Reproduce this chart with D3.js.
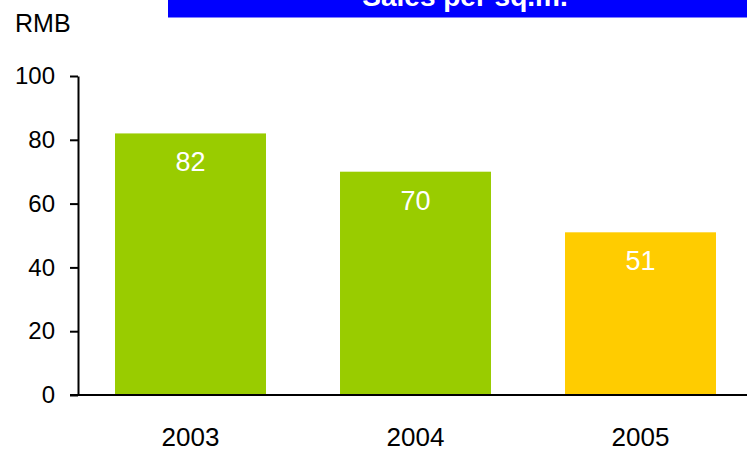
<!DOCTYPE html>
<html>
<head>
<meta charset="utf-8">
<script src="https://cdn.jsdelivr.net/npm/d3@7"></script>
<style>
  body { margin: 0; background: #fff; }
  svg { display: block; font-family: "Liberation Sans", Arial, sans-serif; }
</style>
</head>
<body>
<div id="container"></div>
<script>
// chart data
var years = ["2003", "2004", "2005"];
var sales = [82, 70, 51];
var barColors = ["#99CC00", "#99CC00", "#FFCC00"];
var yTicks = [0, 20, 40, 60, 80, 100];

var w = 747,
    h = 451;

var svg = d3.select("div#container")
  .append("svg")
  .attr("width", w)
  .attr("height", h);

// scales
var x = d3.scaleBand()
  .domain(years)
  .range([78, 753])
  .paddingInner(0.329)
  .paddingOuter(0.1645);

var y = d3.scaleLinear()
  .domain([0, 100])
  .range([395, 76]);

// title box (cut at top)
svg.append("rect")
  .attr("x", 168)
  .attr("y", 0)
  .attr("width", w - 168)
  .attr("height", 17.5)
  .attr("fill", "#0000FF");

svg.append("text")
  .attr("x", 465)
  .attr("y", 6)
  .attr("text-anchor", "middle")
  .attr("fill", "#fff")
  .style("font-size", "28px")
  .style("font-weight", "bold")
  .text("Sales per sq.m.");

// unit label
svg.append("text")
  .attr("x", 15)
  .attr("y", 32)
  .style("font-size", "25px")
  .attr("fill", "#000")
  .text("RMB");

// bars
svg.append("g")
  .selectAll("rect")
  .data(sales)
  .enter().append("rect")
  .attr("x", function(d, i) { return x(years[i]); })
  .attr("y", function(d) { return y(d); })
  .attr("width", x.bandwidth())
  .attr("height", function(d) { return y(0) - y(d); })
  .attr("fill", function(d, i) { return barColors[i]; });

// value labels inside bars
svg.append("g")
  .selectAll("text")
  .data(sales)
  .enter().append("text")
  .attr("x", function(d, i) { return x(years[i]) + x.bandwidth() / 2; })
  .attr("y", function(d) { return y(d) + 38; })
  .attr("text-anchor", "middle")
  .attr("fill", "#fff")
  .style("font-size", "27px")
  .text(function(d) { return d; });

// y axis
var yAxis = svg.append("g")
  .attr("transform", "translate(78,0)")
  .call(d3.axisLeft(y).tickValues(yTicks).tickSize(8).tickSizeOuter(0).tickPadding(15));

yAxis.select(".domain").attr("stroke", "#000").attr("stroke-width", 2);
yAxis.selectAll(".tick line").attr("stroke", "#000").attr("stroke-width", 2);
yAxis.selectAll(".tick text")
  .attr("fill", "#000")
  .style("font-size", "24px")
  .style("font-family", "'Liberation Sans', Arial, sans-serif");

// x baseline
svg.append("line")
  .attr("x1", 70)
  .attr("x2", w)
  .attr("y1", y(0))
  .attr("y2", y(0))
  .attr("stroke", "#000")
  .attr("stroke-width", 2);

// x axis labels
var xAxis = svg.append("g")
  .attr("transform", "translate(0," + y(0) + ")")
  .call(d3.axisBottom(x).tickSize(0).tickPadding(33));

xAxis.select(".domain").remove();
xAxis.selectAll(".tick text")
  .attr("fill", "#000")
  .style("font-size", "26px")
  .style("font-family", "'Liberation Sans', Arial, sans-serif");
</script>
</body>
</html>
